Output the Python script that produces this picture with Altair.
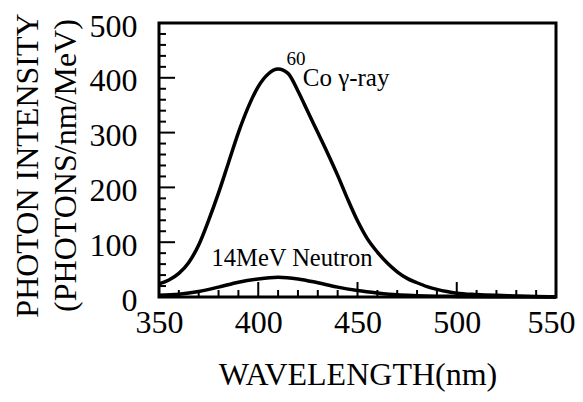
import altair as alt
import pandas as pd

# Co-60 gamma-ray spectrum (wavelength nm, photons/nm/MeV)
wl_gamma = [350, 355, 360, 365, 370, 375, 380, 385, 390, 395, 400, 405, 410, 415,
            420, 425, 430, 435, 440, 445, 450, 455, 460, 465, 470, 475, 480, 485,
            490, 495, 500, 510, 520, 530, 540, 550]
gamma = [24, 31, 43, 63, 95, 140, 190, 245, 300, 347, 384, 407, 416, 408,
         376, 338, 300, 262, 222, 179, 139, 106, 82, 62, 46, 34, 26, 19,
         14, 10, 7, 4.5, 3, 2, 1, 0.5]

# 14 MeV neutron spectrum
wl_neutron = [350, 360, 370, 380, 390, 400, 410, 420, 430, 440, 450, 460, 470,
              480, 490, 500, 520, 550]
neutron = [3, 5, 10, 18, 27, 33, 36, 33, 26, 18, 12, 7.5, 4, 2.5, 1.5, 1, 0.5, 0]

x_major = [350, 400, 450, 500, 550]
x_minor = [360, 370, 380, 390, 410, 420, 430, 440, 460, 470, 480, 490, 510, 520, 530, 540]
y_major = [0, 100, 200, 300, 400, 500]
y_minor = [20, 40, 60, 80, 120, 140, 160, 180, 220, 240, 260, 280, 320, 340, 360, 380,
           420, 440, 460, 480]

ann_text = ["60", "Co \u03b3-ray", "14MeV Neutron"]
ann_x = [414.2, 422.4, 376.5]
ann_y = [423, 385, 57]
ann_size = [19, 25, 24.5]

W, H = 397, 274
FONT = "Liberation Serif"

curves = pd.concat([
    pd.DataFrame({"wl": wl_gamma, "val": gamma, "series": "gamma"}),
    pd.DataFrame({"wl": wl_neutron, "val": neutron, "series": "neutron"}),
])

x_scale = alt.Scale(domain=[350, 550], nice=False, zero=False)
y_scale = alt.Scale(domain=[0, 500], nice=False)

x_axis = alt.Axis(values=x_major, title="WAVELENGTH(nm)", labelPadding=10, labelFlush=False,
                  labelOffset={"condition": {"test": "datum.value == 550", "value": -5}, "value": 0},
                  titlePadding=21, titleFontSize=32)
y_axis = alt.Axis(values=y_major, title=["PHOTON INTENSITY", "(PHOTONS/nm/MeV)"],
                  labelPadding=22, labelFlush=False, labelOffset=3, titlePadding=7,
                  titleFontSize=32, titleLineHeight=38, titleY=142)


def X(field="wl"):
    return alt.X(f"{field}:Q", scale=x_scale, axis=x_axis)


def Y(field="val"):
    return alt.Y(f"{field}:Q", scale=y_scale, axis=y_axis)


lines = alt.Chart(curves).mark_line(color="black", strokeWidth=3.5, interpolate="monotone").encode(
    x=X(), y=Y(), detail="series:N",
)

xmaj = alt.Chart(pd.DataFrame({"wl": x_major})).mark_rule(color="black", strokeWidth=2).encode(
    x=X(), y=alt.value(H), y2=alt.value(H - 15))
xmin = alt.Chart(pd.DataFrame({"wl": x_minor})).mark_rule(color="black", strokeWidth=2).encode(
    x=X(), y=alt.value(H), y2=alt.value(H - 7))
ymaj = alt.Chart(pd.DataFrame({"val": y_major})).mark_rule(color="black", strokeWidth=2).encode(
    y=Y(), x=alt.value(0), x2=alt.value(16))
ymin = alt.Chart(pd.DataFrame({"val": y_minor})).mark_rule(color="black", strokeWidth=2).encode(
    y=Y(), x=alt.value(0), x2=alt.value(7))

ann = alt.Chart(pd.DataFrame({"t": ann_text, "wl": ann_x, "val": ann_y, "s": ann_size})).mark_text(
    align="left", baseline="alphabetic", font=FONT, color="black").encode(
    x=X(), y=Y(),
    text="t:N",
    size=alt.Size("s:Q", scale=None, legend=None),
)

chart = alt.layer(lines, xmaj, xmin, ymaj, ymin, ann).properties(
    width=W, height=H, autosize="none",
    padding={"left": 151, "top": 15, "right": 19, "bottom": 97},
).configure_view(stroke="black", strokeWidth=3).configure_axis(
    domain=False, grid=False, ticks=False,
    labelFont=FONT, labelFontSize=32, labelColor="black",
    titleFont=FONT, titleFontWeight="normal", titleColor="black",
)

chart.save("out.html", embed_options={"renderer": "svg", "actions": False})
